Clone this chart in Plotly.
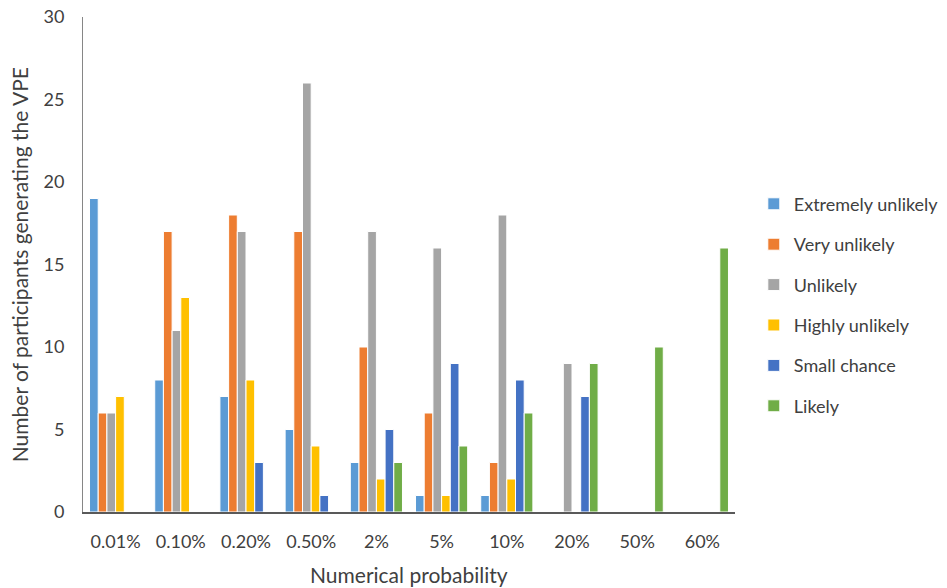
import plotly.graph_objects as go

categories = ["0.01%", "0.10%", "0.20%", "0.50%", "2%", "5%", "10%", "20%", "50%", "60%"]
extremely_unlikely = [19, 8, 7, 5, 3, 1, 1, 0, 0, 0]
very_unlikely = [6, 17, 18, 17, 10, 6, 3, 0, 0, 0]
unlikely = [6, 11, 17, 26, 17, 16, 18, 9, 0, 0]
highly_unlikely = [7, 13, 8, 4, 2, 1, 2, 0, 0, 0]
small_chance = [0, 0, 3, 1, 5, 9, 8, 7, 0, 0]
likely = [0, 0, 0, 0, 3, 4, 6, 9, 10, 16]

series = [
    ("Extremely unlikely", extremely_unlikely, "#5B9BD5"),
    ("Very unlikely", very_unlikely, "#ED7D31"),
    ("Unlikely", unlikely, "#A5A5A5"),
    ("Highly unlikely", highly_unlikely, "#FFC000"),
    ("Small chance", small_chance, "#4472C4"),
    ("Likely", likely, "#70AD47"),
]

font_family = "Lato, 'Open Sans', sans-serif"
text_color = "#404040"

fig = go.Figure()
for i, (name, vals, color) in enumerate(series):
    fig.add_trace(go.Bar(
        x=categories, y=vals, name=name, legendgroup=f"g{i}",
        marker=dict(color=color, line=dict(color="white", width=1)),
    ))

fig.update_layout(
    width=947, height=588,
    margin=dict(l=83, r=212, t=17, b=76),
    paper_bgcolor="white", plot_bgcolor="white",
    barmode="group", bargap=0.2, bargroupgap=0,
    font=dict(family=font_family, color=text_color, size=18),
    xaxis=dict(
        showline=True, linecolor="#595959", linewidth=2, automargin=False,
        ticks="", showgrid=False, tickfont=dict(size=18), ticklabelstandoff=12,
        ticklabeloverflow="allow",
    ),
    yaxis=dict(
        range=[0, 30], dtick=5, showline=True, linecolor="#868686", linewidth=1,
        automargin=False, ticklabelstandoff=14, ticklabeloverflow="allow",
        ticks="", showgrid=False, zeroline=False, tickfont=dict(size=18),
    ),
    legend=dict(
        xref="container", x=0.796, xanchor="left", y=0.418, yanchor="middle",
        itemwidth=30, font=dict(size=18), traceorder="grouped", tracegroupgap=14,
        bgcolor="rgba(0,0,0,0)",
    ),
    annotations=[
        dict(text="Numerical probability", xref="paper", yref="paper",
             x=0.5, y=-0.127, xanchor="center", yanchor="middle",
             showarrow=False, font=dict(size=21)),
        dict(text="Number of participants generating the VPE", xref="paper", yref="paper",
             x=-0.097, y=0.5, xanchor="center", yanchor="middle", textangle=-90,
             showarrow=False, font=dict(size=21)),
    ],
)

fig.write_html(
    "out.html",
    config={"displayModeBar": False},
    post_script="document.body.style.margin='0'; document.body.style.overflow='hidden';",
)
